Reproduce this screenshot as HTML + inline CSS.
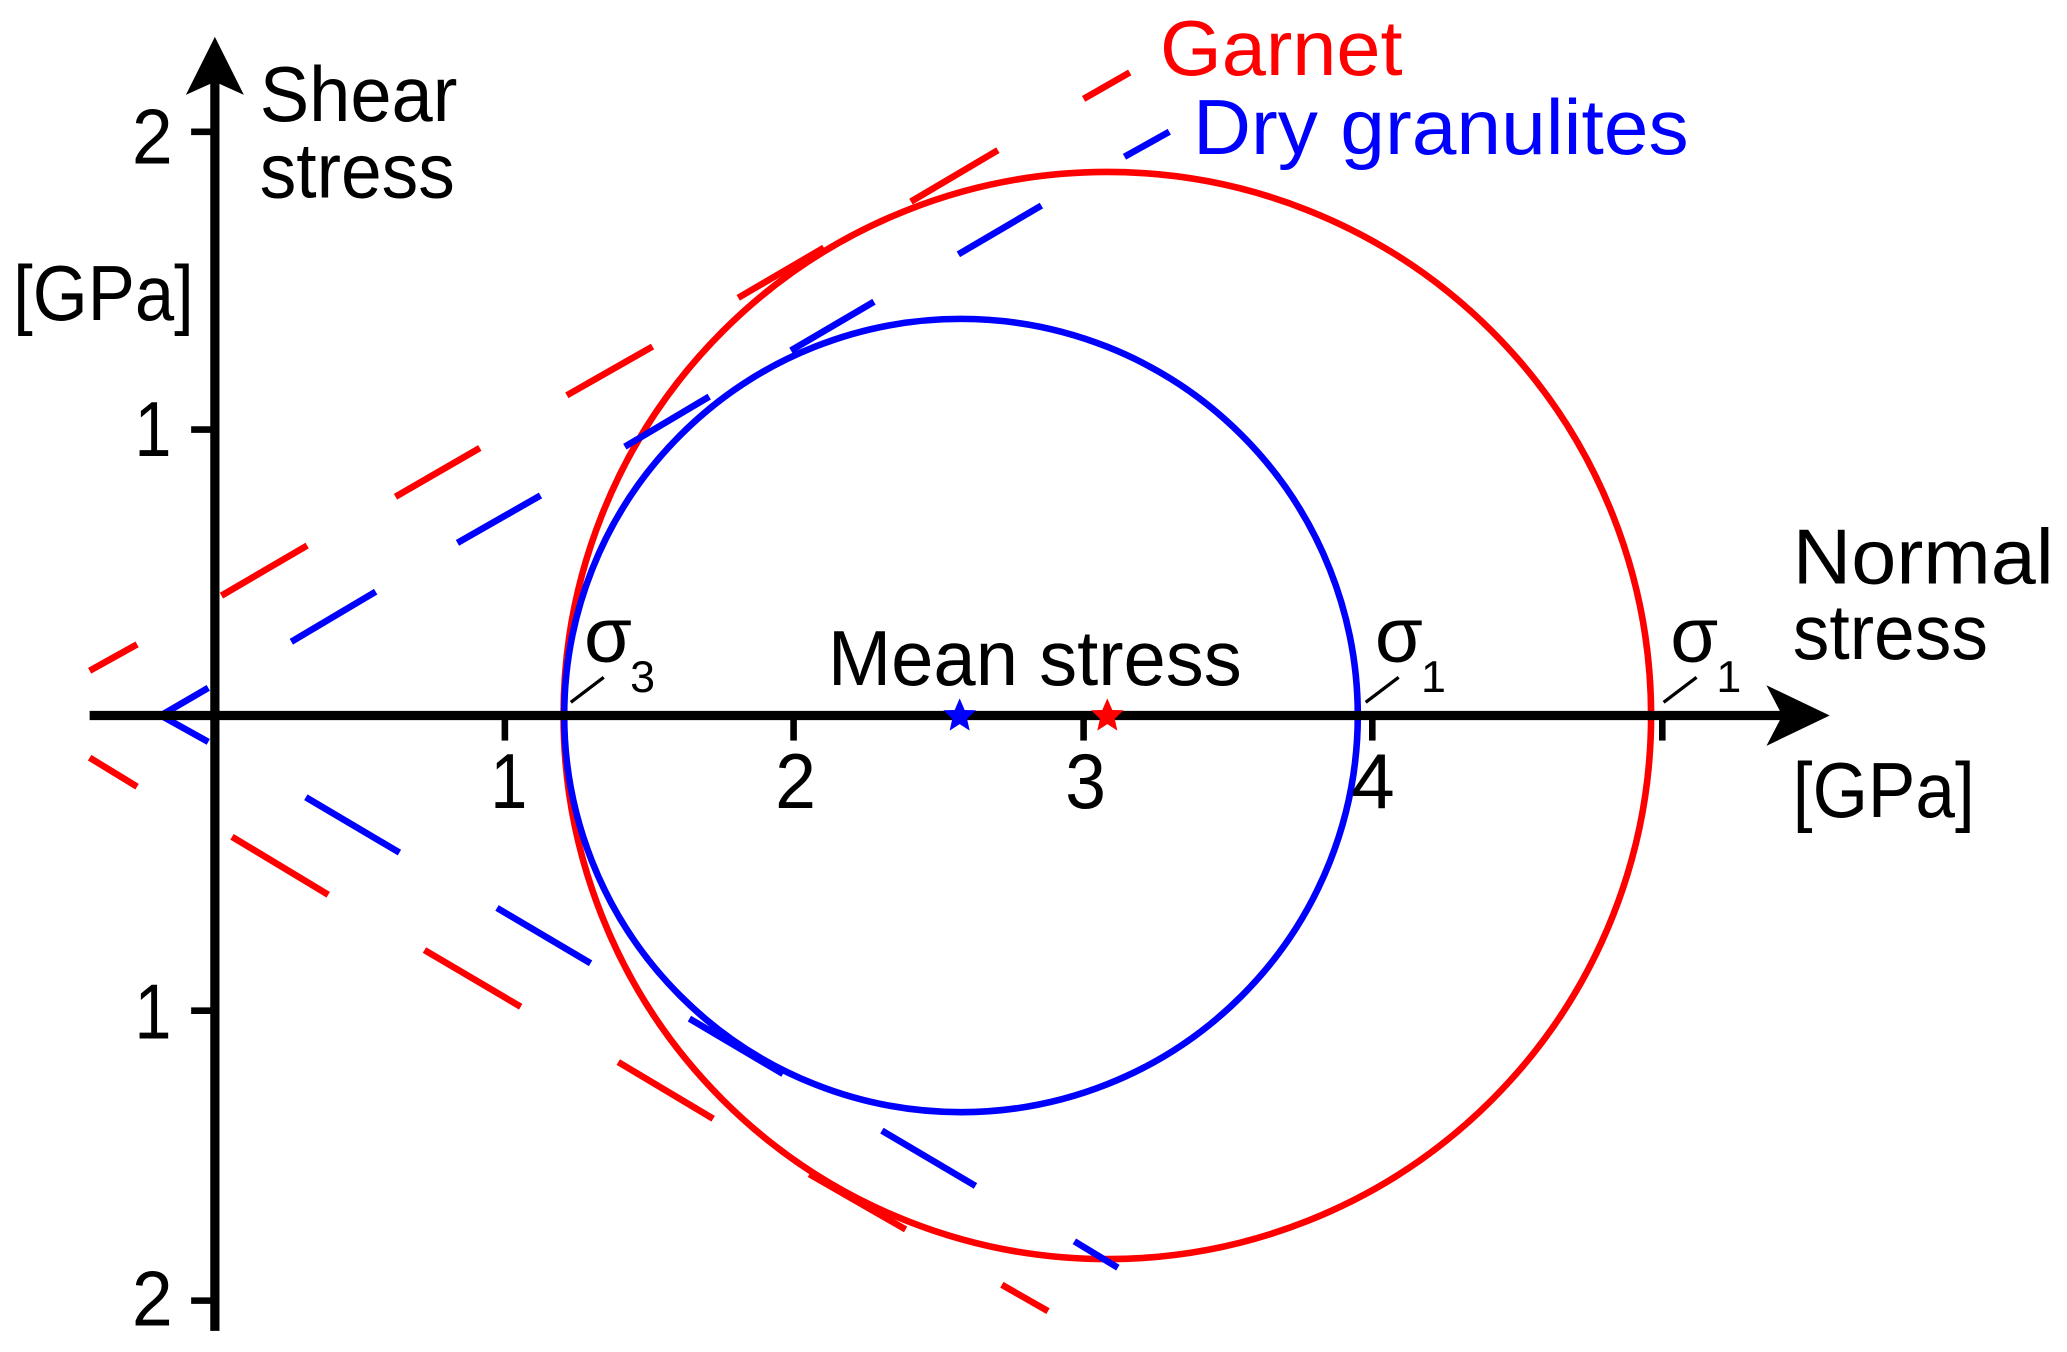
<!DOCTYPE html>
<html><head><meta charset="utf-8"><style>html,body{margin:0;padding:0;background:#fff;}svg{display:block}</style></head>
<body>
<svg width="2067" height="1352" viewBox="0 0 1568 1026" preserveAspectRatio="none" xmlns="http://www.w3.org/2000/svg" font-family="Liberation Sans, sans-serif">
<circle cx="840" cy="543" r="412.5" fill="none" stroke="#f00" stroke-width="5"/>
<circle cx="729" cy="543" r="301" fill="none" stroke="#00f" stroke-width="5"/>
<g stroke="#f00" stroke-width="5" fill="none">
<line x1="68" y1="509" x2="104" y2="489"/><line x1="168" y1="452" x2="233" y2="414"/><line x1="300" y1="377" x2="364" y2="340"/><line x1="430" y1="300" x2="495" y2="263"/><line x1="560" y1="226" x2="625" y2="188"/><line x1="691" y1="153" x2="757" y2="114"/><line x1="822" y1="75" x2="857" y2="55"/>
<line x1="68" y1="575" x2="104" y2="597"/><line x1="176" y1="635" x2="249" y2="679"/><line x1="322" y1="721" x2="395" y2="764"/><line x1="469" y1="806" x2="541" y2="849"/><line x1="614" y1="891" x2="687" y2="933"/><line x1="760" y1="975" x2="795" y2="995"/>
</g>
<g stroke="#00f" stroke-width="5" fill="none">
<line x1="122" y1="543" x2="158" y2="522"/><line x1="221" y1="487" x2="285" y2="449"/><line x1="347" y1="412" x2="410" y2="376"/><line x1="474" y1="339" x2="538" y2="301"/><line x1="600" y1="266" x2="663" y2="229"/><line x1="727" y1="193" x2="790" y2="156"/><line x1="853" y1="119" x2="887" y2="100"/>
<line x1="122" y1="543" x2="158" y2="563"/><line x1="232" y1="605" x2="303" y2="647"/><line x1="377" y1="689" x2="448" y2="731"/><line x1="523" y1="773" x2="594" y2="815"/><line x1="669" y1="858" x2="740" y2="900"/><line x1="815" y1="942" x2="848" y2="962"/>
</g>
<g stroke="#000" stroke-width="7">
<line x1="68" y1="543" x2="1360" y2="543"/>
<line x1="163" y1="1010" x2="163" y2="60"/>
<line x1="145" y1="100" x2="163" y2="100" stroke-width="5"/><line x1="145" y1="326" x2="163" y2="326" stroke-width="5"/><line x1="145" y1="767" x2="163" y2="767" stroke-width="5"/><line x1="145" y1="987" x2="163" y2="987" stroke-width="5"/>
<line x1="383" y1="543" x2="383" y2="562" stroke-width="5"/><line x1="602" y1="543" x2="602" y2="562" stroke-width="5"/><line x1="822" y1="543" x2="822" y2="562" stroke-width="5"/><line x1="1041" y1="543" x2="1041" y2="562" stroke-width="5"/><line x1="1261" y1="543" x2="1261" y2="562" stroke-width="5"/>
</g>
<polygon points="1388,543 1340,520 1352,543 1340,566" fill="#000"/>
<polygon points="163,28 141,72 163,62 185,72" fill="#000"/>
<g stroke="#000" stroke-width="2.5"><line x1="433" y1="533" x2="458" y2="514"/><line x1="1036" y1="533" x2="1061" y2="514"/><line x1="1262" y1="533" x2="1287" y2="514"/></g>
<polygon fill="#00f" transform="translate(728,543)" points="0,-13 3.8,-4.2 12.4,-4 5.6,2.4 7.6,11.5 0,6.5 -7.6,11.5 -5.6,2.4 -12.4,-4 -3.8,-4.2"/>
<polygon fill="#f00" transform="translate(840,543)" points="0,-13 3.8,-4.2 12.4,-4 5.6,2.4 7.6,11.5 0,6.5 -7.6,11.5 -5.6,2.4 -12.4,-4 -3.8,-4.2"/>
<g font-size="59" fill="#000">
<text x="197" y="92" textLength="150" lengthAdjust="spacingAndGlyphs">Shear</text>
<text x="197" y="150" textLength="148" lengthAdjust="spacingAndGlyphs">stress</text>
<text x="10" y="243" textLength="137" lengthAdjust="spacingAndGlyphs">[GPa]</text>
<text x="100" y="124" textLength="31" lengthAdjust="spacingAndGlyphs">2</text><text x="102" y="346" textLength="28" lengthAdjust="spacingAndGlyphs">1</text><text x="102" y="788" textLength="28" lengthAdjust="spacingAndGlyphs">1</text><text x="100" y="1006" textLength="31" lengthAdjust="spacingAndGlyphs">2</text>
<text x="372" y="613" textLength="28" lengthAdjust="spacingAndGlyphs">1</text><text x="588" y="613" textLength="31" lengthAdjust="spacingAndGlyphs">2</text><text x="808" y="613" textLength="31" lengthAdjust="spacingAndGlyphs">3</text><text x="1025" y="613" textLength="33" lengthAdjust="spacingAndGlyphs">4</text>
<text x="1360" y="443" textLength="198" lengthAdjust="spacingAndGlyphs">Normal</text>
<text x="1360" y="500" textLength="148" lengthAdjust="spacingAndGlyphs">stress</text>
<text x="1360" y="620" textLength="138" lengthAdjust="spacingAndGlyphs">[GPa]</text>
<text x="628" y="520" textLength="314" lengthAdjust="spacingAndGlyphs">Mean stress</text>
<text x="443" y="502">σ</text><text x="478" y="525" font-size="34">3</text>
<text x="1043" y="502">σ</text><text x="1078" y="525" font-size="34">1</text>
<text x="1267" y="502">σ</text><text x="1302" y="525" font-size="34">1</text>
<text x="880" y="57" fill="#f00" textLength="184" lengthAdjust="spacingAndGlyphs">Garnet</text>
<text x="905" y="117" fill="#00f" textLength="376" lengthAdjust="spacingAndGlyphs">Dry granulites</text>
</g>
</svg>
</body></html>
